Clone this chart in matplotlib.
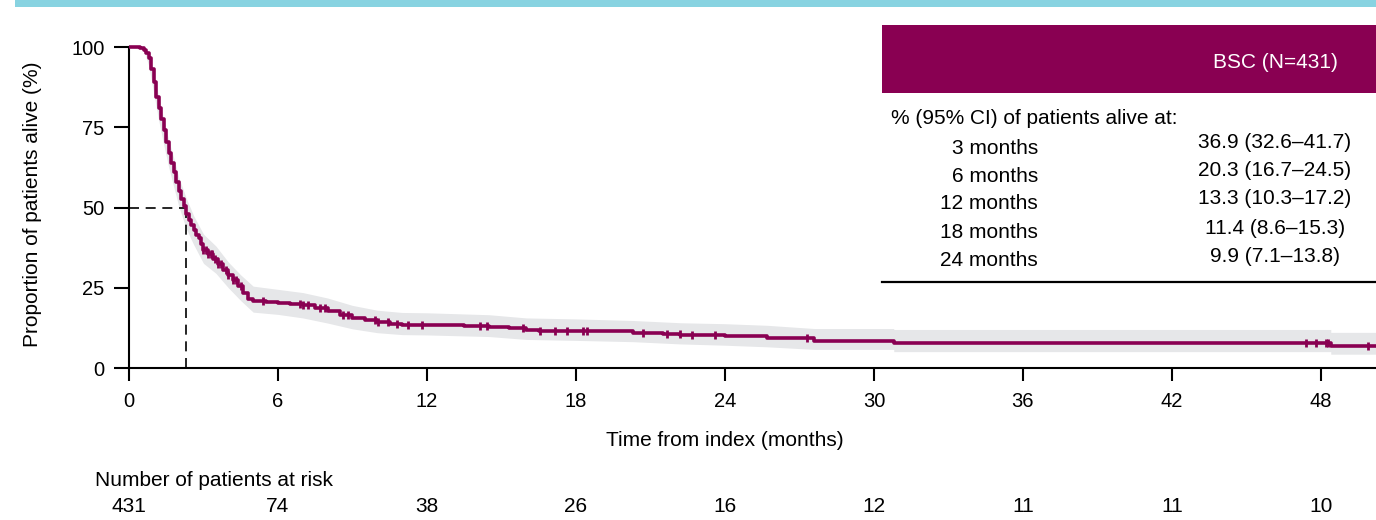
import matplotlib.pyplot as plt
import numpy as np
from matplotlib.patches import Rectangle
from matplotlib.lines import Line2D
import matplotlib.transforms as mtransforms

plt.rcParams['font.family'] = ['Liberation Sans', 'DejaVu Sans']

# Kaplan-Meier estimate (months, % alive)
km_t = [0, 0.45, 0.6, 0.7, 0.8, 0.9, 1.0, 1.1, 1.2, 1.3, 1.4, 1.5, 1.6, 1.7, 1.8, 1.9,
        2.0, 2.1, 2.2, 2.3, 2.4, 2.5, 2.6, 2.7, 2.8, 2.9, 3.0, 3.2, 3.4, 3.6, 3.8, 4.0,
        4.2, 4.4, 4.6, 4.8, 5.0, 5.5, 6.0, 6.5, 7.0, 7.5, 8.0, 8.5, 9.0, 9.5, 10.0,
        10.5, 11.0, 12.0, 13.5, 14.5, 15.3, 16.0, 16.5, 18.0, 20.3, 21.5, 22.2, 24.0,
        25.7, 27.6, 30.8, 48.4, 50.5]
km_s = [100, 99.8, 99.0, 98.0, 96.5, 93.0, 89.0, 84.5, 81.0, 77.5, 74.0, 70.5, 67.0,
        64.0, 61.0, 58.0, 55.0, 52.5, 50.5, 48.0, 46.0, 44.5, 43.0, 41.5, 40.5, 38.5,
        36.9, 35.5, 34.0, 32.5, 30.5, 29.0, 27.5, 25.5, 23.5, 21.5, 21.0, 20.6, 20.3,
        20.0, 19.5, 18.6, 17.8, 16.5, 15.6, 15.0, 14.2, 13.6, 13.4, 13.3, 13.1, 12.8,
        12.4, 11.8, 11.5, 11.4, 11.0, 10.6, 10.3, 9.9, 9.4, 8.5, 7.7, 6.9, 6.9]

# 95% CI band (repeated times mark a jump)
ci_t = [0, 0.6, 0.8, 1.0, 1.2, 1.4, 1.6, 1.8, 2.0, 2.3, 2.6, 3.0, 3.5, 4.0, 4.5, 5.0,
        6.0, 7.0, 8.0, 9.0, 10.0, 11.0, 12.0, 14.5, 16.0, 18.0, 20.3, 22.2, 24.0,
        25.7, 27.6, 30.8, 30.8, 48.4, 48.4, 50.5]
ci_lo = [100, 99, 94, 85.5, 77, 69.5, 62.5, 56.5, 50.5, 43.5, 38.5, 32.6, 29.5, 25,
         21, 17.4, 16.7, 15.6, 14, 12.2, 11, 10.4, 10.3, 9.8, 8.9, 8.6, 8.2, 7.5, 7.1,
         6.6, 5.8, 5.8, 5.1, 5.1, 4.3, 4.3]
ci_hi = [100, 100, 98.5, 91.5, 84.5, 77.5, 71, 65.5, 59.5, 53, 47.5, 41.7, 38, 33, 29,
         25.5, 24.5, 23.5, 21.8, 19.5, 18, 17.3, 17.2, 16.6, 15.6, 15.3, 14.8, 14.1,
         13.8, 13.3, 12.3, 12.3, 12.0, 12.0, 11.1, 11.1]

# censored observations (months)
censor_t = [3.0, 3.1, 3.2, 3.3, 3.35, 3.45, 3.6, 3.7, 3.9, 4.0, 4.2, 4.3, 4.5, 5.4,
            6.9, 7.02, 7.22, 7.69, 7.89, 8.63, 8.8, 9.91, 10.04, 10.44, 10.78, 11.25,
            11.79, 14.14, 14.41, 15.88, 16.55, 17.16, 17.63, 18.29, 18.43, 20.71,
            21.65, 22.19, 22.66, 23.6, 27.3, 47.4, 47.8, 48.2, 48.3, 49.9]

median_t = 2.3

risk_t = [0, 6, 12, 18, 24, 30, 36, 42, 48]
risk_n = [431, 74, 38, 26, 16, 12, 11, 11, 10]

table_rows = ['3 months', '6 months', '12 months', '18 months', '24 months']
table_vals = ['36.9 (32.6\u201341.7)', '20.3 (16.7\u201324.5)', '13.3 (10.3\u201317.2)',
              '11.4 (8.6\u201315.3)', '9.9 (7.1\u201313.8)']

purple = '#890052'
W, H = 1376, 520

fig = plt.figure(figsize=(W / 100, H / 100), dpi=100)
ax = fig.add_axes([129 / W, 152 / H, 1 - 129 / W, (368 - 40.6) / H])

ax.fill_between(ci_t, ci_lo, ci_hi, color='#E6E7E9', lw=0, zorder=1)
ax.plot(km_t, km_s, drawstyle='steps-post', color=purple, lw=2.6, zorder=3)

idx = np.searchsorted(km_t, censor_t, side='right') - 1
censor_s = np.array(km_s)[idx]
ax.plot(censor_t, censor_s, ls='none', marker='|', ms=6, mew=2, color=purple, zorder=4)

# median survival
ax.plot([0, median_t], [50, 50], color='black', lw=1.2, ls=(0, (6, 4)), zorder=2)
ax.plot([median_t, median_t], [0, 50], color='black', lw=1.2, ls=(0, (6, 4)), zorder=2)

ax.set_xlim(0, 1247 / 24.83)
ax.set_ylim(0, 102)
ax.set_xticks(risk_t)
ax.set_yticks([0, 25, 50, 75, 100])
ax.spines['top'].set_visible(False)
ax.spines['right'].set_visible(False)
ax.spines['left'].set_bounds(0, 100)
ax.spines['left'].set_linewidth(1.5)
ax.spines['bottom'].set_linewidth(1.5)
ax.tick_params(axis='y', length=11, width=1.5, pad=6.5, labelsize=14.5)
ax.tick_params(axis='x', length=9, width=1.5, pad=8, labelsize=14.5)

fig.text(33 / W, 1 - 204 / H, 'Proportion of patients alive (%)', rotation=90,
         ha='center', va='center', fontsize=15)

blend = mtransforms.blended_transform_factory(ax.transData, fig.transFigure)
ax.text(24, 1 - 440 / H, 'Time from index (months)', transform=blend,
        ha='center', va='center', fontsize=15)

# number at risk
fig.text(95 / W, 1 - 480 / H, 'Number of patients at risk', ha='left', va='center',
         fontsize=15)
for t, n in zip(risk_t, risk_n):
    ax.text(t, 1 - 507 / H, str(n), transform=blend, ha='center', va='center',
            fontsize=15)

# top banner
fig.patches.append(Rectangle((15 / W, 1 - 7 / H), 1, 7 / H, transform=fig.transFigure,
                             color='#88D3E1', lw=0))

# inset table
fig.patches.append(Rectangle((882 / W, 1 - 93 / H), (W - 882) / W, 68 / H,
                             transform=fig.transFigure, color=purple, lw=0, zorder=5))
fig.text(1275 / W, 1 - 63 / H, 'BSC (N=431)', color='white', ha='center', va='center',
         fontsize=15, zorder=6)
fig.text(891 / W, 1 - 118 / H, '% (95% CI) of patients alive at:', ha='left',
         va='center', fontsize=15)
row_y = [148, 176, 204, 233, 261]
for lab, val, y in zip(table_rows, table_vals, row_y):
    fig.text(1038 / W, 1 - y / H, lab, ha='right', va='center', fontsize=15)
    fig.text(1275 / W, 1 - (y - 5) / H, val, ha='center', va='center', fontsize=15)
fig.lines.append(Line2D([882 / W, 1], [1 - 282 / H, 1 - 282 / H], transform=fig.transFigure,
                        color='black', lw=1.6))

fig.savefig('out.png', dpi=100)
